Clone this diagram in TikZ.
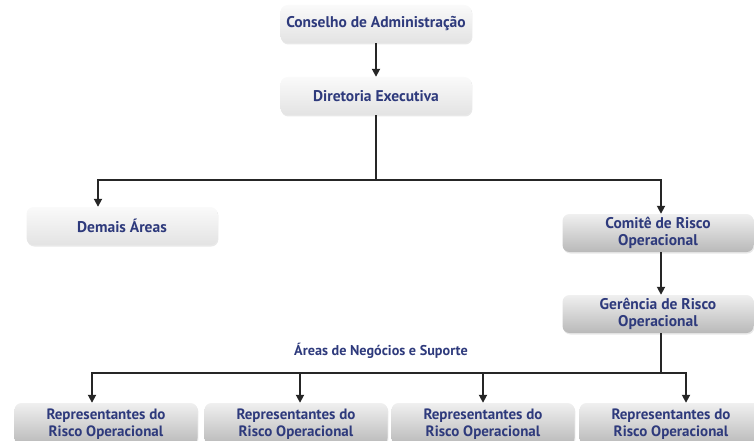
\documentclass[tikz,border=0pt]{standalone}
\usepackage{fontspec}
\setmainfont{PT Sans}
\usetikzlibrary{arrows.meta,shadows}
\definecolor{navy}{HTML}{2E3A7C}
\tikzset{
  lightbox/.style={rounded corners=7pt, minimum width=191pt, minimum height=38pt,
    top color=white!96!gray, bottom color=gray!22, draw=none,
    drop shadow={opacity=0.18, shadow xshift=0.8pt, shadow yshift=-1.5pt},
    text=navy, font=\bfseries\fontsize{15.5}{16.5}\selectfont, align=center, inner sep=0pt},
  darkbox/.style={lightbox, top color=gray!12, bottom color=gray!55},
  repbox/.style={darkbox, minimum width=183pt, minimum height=42pt, font=\bfseries\fontsize{15}{16.5}\selectfont},
  conn/.style={line width=1.8pt, black!85},
  arr/.style={conn, -{Triangle[width=8pt,length=8pt]}},
}
\begin{document}
\begin{tikzpicture}[x=1pt,y=-1pt]
\useasboundingbox (0,0) rectangle (754,441);
\node[lightbox] (con) at (376,24) {Conselho de Administração};
\node[lightbox] (dir) at (376,96) {Diretoria Executiva};
\node[lightbox] (dem) at (122,226) {Demais Áreas};
\node[darkbox] (com) at (658,233) {Comitê de Risco\\Operacional};
\node[darkbox] (ger) at (658,314) {Gerência de Risco\\Operacional};
\node[text=navy, font=\bfseries\fontsize{14.2}{15}\selectfont] (lab) at (381,351) {Áreas de Negócios e Suporte};
\node[repbox] (r1) at (106,424) {Representantes do\\Risco Operacional};
\node[repbox] (r2) at (296,424) {Representantes do\\Risco Operacional};
\node[repbox] (r3) at (483,424) {Representantes do\\Risco Operacional};
\node[repbox] (r4) at (671,424) {Representantes do\\Risco Operacional};

\draw[arr] (con.south) -- (dir.south |- dir.north);
\draw[arr] (dir.south) -- ++(0,65) -| ([xshift=-24pt]dem.north);
\draw[arr] (dir.south) -- ++(0,65) -| ([xshift=3pt]com.north);
\draw[arr] ([xshift=3pt]com.south) -- ([xshift=3pt]ger.north);
\draw[arr] ([xshift=3pt]ger.south) -- ++(0,40) -| ([xshift=-14pt]r1.north);
\draw[arr] ([xshift=3pt]ger.south) -- ++(0,40) -| ([xshift=4pt]r2.north);
\draw[arr] ([xshift=3pt]ger.south) -- ++(0,40) -| (r3.north);
\draw[arr] ([xshift=3pt]ger.south) -- ++(0,40) -| ([xshift=15pt]r4.north);
\end{tikzpicture}
\end{document}
